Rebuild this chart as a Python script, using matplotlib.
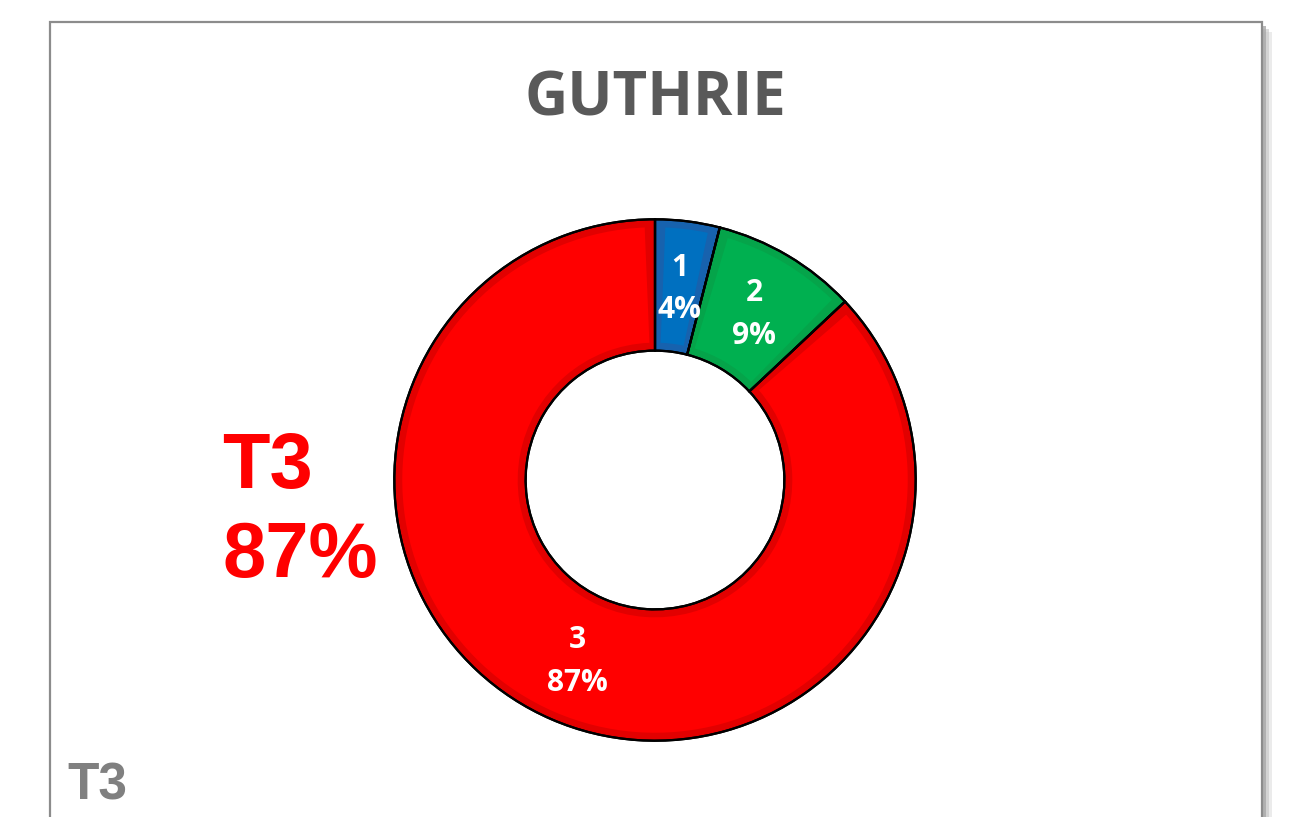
import matplotlib
matplotlib.use("Agg")
import matplotlib.pyplot as plt
import numpy as np
from matplotlib.patches import Rectangle, Wedge

# data
categories = ["1", "2", "3"]
shares = [4, 9, 87]
colors = ["#0070C0", "#00B050", "#FF0000"]
band_colors = ["#1762AE", "#05A44A", "#E20000"]
title = "GUTHRIE"
callout = "T3\n87%"
footer = "T3"

W, H = 1297, 817
fig = plt.figure(figsize=(W / 100, H / 100), dpi=100)
fig.patch.set_facecolor("white")


def px(x, y):
    return x / W, 1 - y / H


# chart frame with a soft shadow
for off, col, a in [(10, "#d8d8d8", 0.5), (7, "#c4c4c4", 0.6), (4, "#a8a8a8", 0.8)]:
    fig.patches.append(Rectangle(px(50 + off, 840), 1212 / W, (818 - off) / H,
                                 transform=fig.transFigure, facecolor=col,
                                 edgecolor="none", alpha=a, zorder=0))
fig.patches.append(Rectangle(px(50, 840), 1212 / W, 818 / H,
                             transform=fig.transFigure, facecolor="white",
                             edgecolor="#8c8c8c", linewidth=1.6, zorder=1))

# donut
cx, cy, r_out, r_in = 655, 480, 262, 130
ax = fig.add_axes([(cx - r_out) / W, (H - cy - r_out) / H, 2 * r_out / W, 2 * r_out / H])
ax.set_zorder(2)
ring = (r_out - r_in) / r_out

# base wedges in the darker band colour, with black outline
wedges, _ = ax.pie(shares, colors=band_colors, startangle=90, counterclock=False,
                   radius=1, wedgeprops=dict(width=ring, edgecolor="black",
                                             linewidth=1.6))
# lighter fill inset inside each wedge (Excel-like bevel band)
d = 8 / r_out
r_mid = (r_out + r_in) / 2 / r_out
for w, col in zip(wedges, colors):
    dth = np.rad2deg(d / r_mid)
    inner = Wedge((0, 0), 1 - d, w.theta1 + dth, w.theta2 - dth,
                  width=ring - 2 * d, facecolor=col, edgecolor="none", zorder=w.get_zorder())
    ax.add_patch(inner)
for w in wedges:
    outline = Wedge((0, 0), 1, w.theta1, w.theta2, width=ring, fill=False,
                    edgecolor="black", linewidth=1.6)
    ax.add_patch(outline)

ax.set_xlim(-1.005, 1.005)
ax.set_ylim(-1.005, 1.005)
ax.axis("off")

total = sum(shares)
start = 90.0
r_lab = 0.748
for cat, val in zip(categories, shares):
    sweep = 360.0 * val / total
    mid = np.deg2rad(start - sweep / 2)
    start -= sweep
    ax.text(r_lab * np.cos(mid), r_lab * np.sin(mid) - 0.01, f"{cat}\n{val}%",
            ha="center", va="center", color="white", fontsize=21.5,
            fontweight="bold", family="Open Sans", linespacing=1.55)

# texts
fig.text(*px(655, 100), title, ha="center", va="center", fontsize=43,
         fontweight="bold", color="#595959", family="Open Sans", zorder=3)
fig.text(*px(222, 512), callout, ha="left", va="center", fontsize=56,
         fontweight="bold", color="#FF0000", family="Liberation Sans",
         linespacing=1.27, zorder=3)
fig.text(*px(67, 786), footer, ha="left", va="center", fontsize=37,
         fontweight="bold", color="#808080", family="Liberation Sans", zorder=3)

fig.savefig("out.png", dpi=100)
